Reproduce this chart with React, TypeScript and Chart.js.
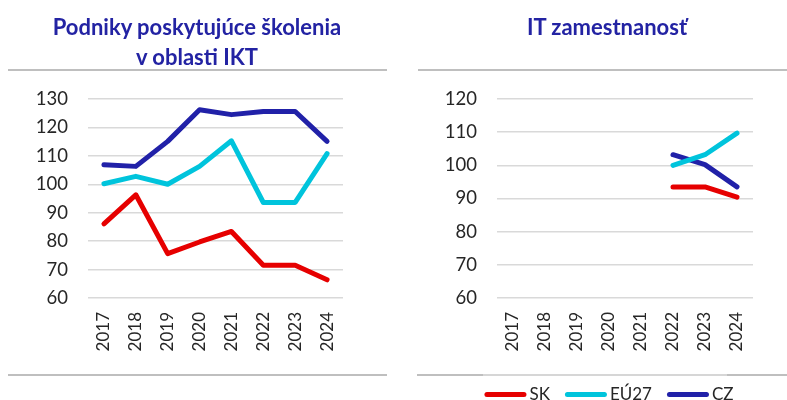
import React, { useEffect, useRef } from "react";
import { Chart, registerables } from "chart.js";

Chart.register(...registerables);

const years = ["2017", "2018", "2019", "2020", "2021", "2022", "2023", "2024"];
const seriesNames = ["SK", "EÚ27", "CZ"];
const seriesColors = ["#E60000", "#00C4DC", "#2121A8"];

const trainingSK = [86.1, 96.3, 75.6, 79.7, 83.4, 71.5, 71.5, 66.4];
const trainingEU = [100.2, 102.8, 100.0, 106.3, 115.3, 93.6, 93.6, 110.8];
const trainingCZ = [106.9, 106.3, 115.1, 126.2, 124.5, 125.6, 125.6, 115.1];

const itSK = [null, null, null, null, null, 93.5, 93.5, 90.4];
const itEU = [null, null, null, null, null, 100.0, 103.2, 109.7];
const itCZ = [null, null, null, null, null, 103.2, 100.2, 93.5];

const leftTicks = { min: 60, max: 130, step: 10 };
const rightTicks = { min: 60, max: 120, step: 10 };

const titleLeft = ["Podniky poskytujúce školenia", "v oblasti IKT"];
const titleRight = "IT zamestnanosť";

const FONT = "Lato, 'Open Sans', sans-serif";
const TEXT = "#262626";
const GRID = "#d9d9d9";
const SEP = "#bfbfbf";

function makeDatasets(vals: (number | null)[][]) {
  return vals.map((d, i) => ({
    label: seriesNames[i],
    data: d,
    borderColor: seriesColors[i],
    backgroundColor: seriesColors[i],
    borderWidth: 5,
    pointRadius: 0,
    pointHoverRadius: 0,
    tension: 0,
    borderCapStyle: "round" as const,
    borderJoinStyle: "round" as const,
    spanGaps: false,
  }));
}

function makeOptions(t: { min: number; max: number; step: number }, pad: any, yWidth: number) {
  return {
    responsive: false,
    animation: false as const,
    layout: { padding: pad },
    plugins: {
      legend: { display: false },
      tooltip: { enabled: false },
      title: { display: false },
    },
    scales: {
      x: {
        type: "category" as const,
        offset: true,
        grid: { display: false, drawTicks: false },
        border: { display: false },
        ticks: {
          minRotation: 90,
          maxRotation: 90,
          padding: 14,
          color: TEXT,
          font: { family: FONT, size: 17 },
          autoSkip: false,
        },
        afterFit: (s: any) => {
          s.height = 60;
        },
      },
      y: {
        min: t.min,
        max: t.max,
        grid: { color: GRID, lineWidth: 1.5, drawTicks: false },
        border: { display: false },
        ticks: {
          stepSize: t.step,
          padding: 20,
          color: TEXT,
          font: { family: FONT, size: 18.5 },
        },
        afterFit: (s: any) => {
          s.width = yWidth;
        },
      },
    },
  };
}

const legendPlugin = {
  id: "customLegend",
  afterDraw(chart: any) {
    const ctx = chart.ctx as CanvasRenderingContext2D;
    const ds = chart.data.datasets;
    const lineLen = 42;
    const gapText = 3;
    const gapItem = 15;
    const y = 394.5;
    ctx.save();
    ctx.font = `17px ${FONT}`;
    const widths = ds.map((d: any) => ctx.measureText(d.label).width);
    const total = widths.reduce((a: number, w: number) => a + lineLen + gapText + w, 0) + gapItem * (ds.length - 1);
    let x = 209 - total / 2;
    ds.forEach((d: any, i: number) => {
      ctx.beginPath();
      ctx.strokeStyle = d.borderColor;
      ctx.lineWidth = 5;
      ctx.lineCap = "round";
      ctx.moveTo(x + 2.5, y);
      ctx.lineTo(x + lineLen - 2.5, y);
      ctx.stroke();
      x += lineLen + gapText;
      ctx.fillStyle = TEXT;
      ctx.textBaseline = "middle";
      ctx.textAlign = "left";
      ctx.fillText(d.label, x, y);
      x += widths[i] + gapItem;
    });
    ctx.restore();
  },
};

function LineChart(props: {
  data: (number | null)[][];
  ticks: { min: number; max: number; step: number };
  pad: any;
  yWidth: number;
  width: number;
  legend?: boolean;
}) {
  const ref = useRef<HTMLCanvasElement | null>(null);
  useEffect(() => {
    if (!ref.current) return;
    const chart = new Chart(ref.current, {
      type: "line",
      data: { labels: years, datasets: makeDatasets(props.data) as any },
      options: makeOptions(props.ticks, props.pad, props.yWidth) as any,
      plugins: props.legend ? [legendPlugin as any] : [],
    });
    return () => chart.destroy();
  }, []);
  return <canvas ref={ref} width={props.width} height={400} style={{ display: "block" }} />;
}

const titleStyle: React.CSSProperties = {
  position: "absolute",
  fontFamily: FONT,
  fontWeight: 700,
  fontSize: 22,
  color: "#2323A3",
  textAlign: "center",
  lineHeight: "30px",
  whiteSpace: "nowrap",
};

function Line(p: { x1: number; x2: number; y: number; color?: string }) {
  return (
    <div
      style={{
        position: "absolute",
        left: p.x1,
        top: p.y - 1,
        width: p.x2 - p.x1,
        height: 2,
        background: p.color || SEP,
      }}
    />
  );
}

export default function App() {
  return (
    <div style={{ position: "fixed", left: 0, top: 0, width: 787, height: 400, background: "#fff", overflow: "hidden" }}>
      <div style={{ position: "absolute", left: 0, top: 0 }}>
        <LineChart
          data={[trainingSK, trainingEU, trainingCZ]}
          ticks={leftTicks}
          pad={{ left: 0, right: 57, top: 99, bottom: 42 }}
          yWidth={88}
          width={400}
        />
      </div>
      <div style={{ position: "absolute", left: 400, top: 0 }}>
        <LineChart
          data={[itSK, itEU, itCZ]}
          ticks={rightTicks}
          pad={{ left: 0, right: 34, top: 99, bottom: 42 }}
          yWidth={97}
          width={387}
          legend
        />
      </div>
      <div style={{ ...titleStyle, left: 47, width: 300, top: 12 }}>
        {titleLeft[0]}
        <br />
        {titleLeft[1]}
      </div>
      <div style={{ ...titleStyle, left: 457, width: 300, top: 12 }}>{titleRight}</div>
      <Line x1={8} x2={387} y={70} />
      <Line x1={418} x2={787} y={70} />
      <Line x1={8} x2={387} y={375} />
      <Line x1={417} x2={483} y={375} />
      <Line x1={483} x2={727} y={375} color="#d6d6d6" />
      <Line x1={727} x2={787} y={375} />
    </div>
  );
}
